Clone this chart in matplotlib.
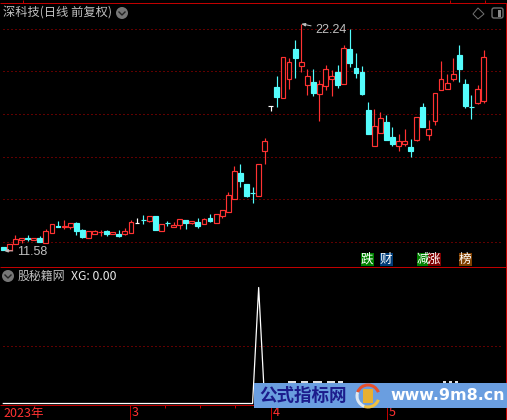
import matplotlib
matplotlib.use('Agg')
import matplotlib.pyplot as plt
from matplotlib.patches import Rectangle, Circle, Wedge, FancyBboxPatch, Polygon

plt.rcParams['font.family'] = ['Noto Sans CJK SC', 'DejaVu Sans']

opens = [11.75, 11.61, 11.89, 12.08, 12.15, 12.08, 12.17, 11.94, 12.41, 12.73,
         12.71, 12.69, 12.88, 12.55, 12.17, 12.36, 12.45, 12.50, 12.36, 12.36,
         12.36, 12.41, 12.88, 13.03, 12.97, 13.21, 12.50, 12.89, 12.69, 12.79,
         13.02, 12.88, 12.93, 12.83, 13.11, 12.88, 13.21, 13.40, 14.01, 15.23,
         14.71, 14.30, 14.15, 16.26, 18.36, 19.27, 18.75, 19.65, 21.06, 20.26,
         19.37, 19.51, 18.94, 19.32, 19.65, 19.98, 19.41, 21.06, 20.16, 19.98,
         18.19, 16.50, 17.11, 17.63, 16.92, 16.50, 16.59, 16.45, 16.78, 18.33,
         17.02, 17.67, 19.13, 19.18, 19.65, 20.77, 19.41, 18.34, 18.52, 18.61]
highs = [11.75, 11.89, 12.32, 12.17, 12.32, 12.17, 12.27, 12.60, 12.83, 12.97,
         13.02, 12.88, 12.93, 12.60, 12.50, 12.55, 12.55, 12.55, 12.46, 12.55,
         12.64, 13.02, 13.11, 13.25, 13.21, 13.21, 12.83, 12.97, 12.93, 13.07,
         13.02, 12.97, 13.11, 13.11, 13.30, 13.30, 13.49, 14.34, 15.56, 15.65,
         14.71, 14.57, 15.65, 16.87, 18.36, 19.79, 20.68, 20.63, 21.48, 22.24,
         20.12, 20.12, 19.60, 20.30, 20.07, 20.30, 21.25, 22.00, 20.87, 20.26,
         18.57, 18.24, 18.10, 17.96, 17.39, 17.06, 17.30, 16.83, 17.86, 18.52,
         17.72, 18.99, 20.49, 19.88, 20.63, 21.25, 19.65, 18.90, 19.37, 21.01]
lows = [11.61, 11.58, 11.89, 11.94, 12.03, 12.08, 11.99, 11.94, 12.41, 12.69,
        12.60, 12.60, 12.32, 12.17, 12.17, 12.36, 12.27, 12.27, 12.36, 12.22,
        12.32, 12.41, 12.88, 12.83, 12.93, 12.55, 12.50, 12.74, 12.69, 12.60,
        12.60, 12.83, 12.64, 12.83, 12.93, 12.88, 13.11, 13.40, 14.01, 14.57,
        14.10, 13.82, 14.15, 15.65, 18.14, 18.33, 18.75, 19.18, 19.69, 19.98,
        18.90, 18.85, 17.67, 19.13, 18.85, 19.22, 19.41, 20.21, 19.69, 18.90,
        17.06, 16.50, 17.11, 16.78, 16.50, 16.26, 16.50, 15.98, 16.73, 17.39,
        16.78, 17.49, 19.13, 19.18, 19.55, 19.51, 18.28, 17.77, 18.47, 18.52]
closes = [11.61, 11.89, 12.13, 12.17, 12.13, 12.17, 11.99, 12.50, 12.83, 12.71,
          12.73, 12.88, 12.50, 12.22, 12.50, 12.50, 12.47, 12.36, 12.46, 12.27,
          12.50, 12.93, 12.88, 13.01, 13.21, 12.55, 12.83, 12.87, 12.79, 13.07,
          12.88, 12.97, 12.74, 13.07, 12.97, 13.30, 13.49, 14.20, 15.32, 14.85,
          14.15, 14.28, 15.65, 16.73, 18.36, 18.80, 20.68, 20.45, 20.63, 20.45,
          19.79, 18.99, 19.41, 20.12, 19.79, 19.37, 21.10, 20.40, 19.93, 18.94,
          17.06, 17.44, 17.81, 16.78, 16.59, 16.73, 16.73, 16.26, 17.86, 17.39,
          17.30, 18.99, 19.65, 19.46, 19.88, 20.12, 18.38, 18.32, 19.18, 20.68]
xg = [0, 0, 0, 0, 0, 0, 0, 0, 0, 0, 0, 0, 0, 0, 0, 0, 0, 0, 0, 0,
      0, 0, 0, 0, 0, 0, 0, 0, 0, 0, 0, 0, 0, 0, 0, 0, 0, 0, 0, 0,
      0, 0, 1, 0, 0, 0, 0, 0, 0, 0, 0, 0, 0, 0, 0, 0, 0, 0, 0, 0,
      0, 0, 0, 0, 0, 0, 0, 0, 0, 0, 0, 0, 0, 0, 0, 0, 0, 0, 0, 0]
price_grid = [12, 14, 16, 18, 20, 22]
month_labels = ['2023年', '3', '4', '5']
badges = ['跌', '财', '减', '涨', '榜']

RED = '#ff3232'
CYAN = '#54fcfc'
AXIS = '#c00000'
DOT = '#c00000'
GRAY = '#c0c0c0'
LW = 0.72  # one pixel at dpi 100
CANDLE_LW = 0.85

fig = plt.figure(figsize=(5.07, 4.2), dpi=100, facecolor='black')
xlim = (-3.3 / 6.08, 503.7 / 6.08)

# main panel
ax = fig.add_axes([0, 153 / 420, 1, 264 / 420], facecolor='black')
ax.set_xlim(xlim)
ax.set_ylim(10.81, 23.22)
ax.axis('off')
ax.hlines(price_grid, -0.05, 82, color=DOT, lw=LW, linestyle=(0, (1, 3)), zorder=1)

for i in range(len(opens)):
    o, h, l, c = opens[i], highs[i], lows[i], closes[i]
    if c > o:
        col = RED
    elif c < o:
        col = CYAN
    else:
        col = 'white'
    ax.vlines(i, l, h, color=col, lw=CANDLE_LW, zorder=2)
    if c > o:
        ax.add_patch(Rectangle((i - 0.4, o), 0.8, c - o, facecolor='black', edgecolor=col,
                               lw=CANDLE_LW, joinstyle='miter', zorder=3))
    elif c < o:
        ax.add_patch(Rectangle((i - 0.4, c), 0.8, o - c, facecolor=col, edgecolor=col,
                               lw=CANDLE_LW, joinstyle='miter', zorder=3))
    else:
        ax.hlines(c, i - 0.4, i + 0.4, color=col, lw=CANDLE_LW, zorder=3)

hi = highs.index(max(highs))
lo = lows.index(min(lows))
ax.annotate('%.2f' % highs[hi], xy=(hi, highs[hi]), xytext=(14, -6), textcoords='offset pixels',
            color=GRAY, fontsize=9, va='center', family=['Liberation Sans'],
            arrowprops=dict(arrowstyle='-|>,head_width=0.1,head_length=0.25', color=GRAY, lw=LW,
                            shrinkA=1, shrinkB=0))
ax.annotate('%.2f' % lows[lo], xy=(0.1, lows[lo]), xytext=(13, -1), textcoords='offset pixels',
            color=GRAY, fontsize=9, va='center', family=['Liberation Sans'],
            arrowprops=dict(arrowstyle='-|>,head_width=0.1,head_length=0.25', color=GRAY, lw=LW,
                            shrinkA=1, shrinkB=0))

# indicator panel
ax2 = fig.add_axes([0, 15 / 420, 1, 138 / 420], facecolor='black')
ax2.set_xlim(xlim)
ax2.set_ylim(-1.5 / 116, 136.5 / 116)
ax2.axis('off')
ax2.hlines(0.5, -0.05, 82, color=DOT, lw=LW, linestyle=(0, (1, 3)), zorder=1)
ax2.plot(range(len(xg)), xg, color='white', lw=0.9, zorder=2)

# everything else in pixel coordinates
top = fig.add_axes([0, 0, 1, 1], facecolor='none')
top.set_xlim(0, 507)
top.set_ylim(420, 0)
top.axis('off')

top.hlines([3, 267, 405], 0, 507, color=AXIS, lw=LW)
top.vlines(506, 3, 420, color=AXIS, lw=LW)
top.vlines([23, 450, 485], 0, 3, color=AXIS, lw=LW)
top.vlines([130, 271, 387], 405, 420, color=AXIS, lw=LW)
top.vlines([165, 200, 235], 405, 408, color=AXIS, lw=LW)

for lab, x in zip(month_labels, [3, 132, 273, 389]):
    top.text(x, 413, lab, color=RED, fontsize=9, va='center', ha='left')

top.text(3, 12.5, '深科技(日线 前复权)', color=GRAY, fontsize=8.8, va='center', ha='left')
top.text(18, 276, '股秘籍网', color=GRAY, fontsize=8.6, va='center', ha='left')
top.text(71, 276, 'XG: 0.00', color='#e8e8e8', fontsize=8.8, va='center', ha='left')

for cx, cy in [(122, 13), (8, 276)]:
    top.add_patch(Circle((cx, cy), 6, facecolor='#767676', edgecolor='none'))
    top.plot([cx - 3, cx, cx + 3], [cy - 1, cy + 2, cy - 1], color='#222222', lw=1.0)

top.add_patch(Polygon([(478, 8), (484, 14), (478, 19), (473, 14)], closed=True, fill=False,
                      edgecolor='#707070', lw=LW))
top.add_patch(FancyBboxPatch((492, 8), 11, 10, boxstyle='round,pad=0,rounding_size=2', fill=False,
                             edgecolor='#707070', lw=1.0))
top.add_patch(Rectangle((498, 10), 3, 7, facecolor='#8a8a8a', edgecolor='none'))

badge_x = [361, 380, 417, 428, 459]
badge_c = ['#008000', '#003c78', '#008000', '#800000', '#804000']
for txt, x, c in zip(badges, badge_x, badge_c):
    top.add_patch(Rectangle((x, 253), 12.5, 12.5, facecolor=c, edgecolor='none'))
    top.text(x + 6.2, 259, txt, color='white', fontsize=9, va='center', ha='center')

# bits of hidden white text that stick out above the watermark band
for x0, x1 in [(288, 296), (301, 308), (313, 322), (327, 335), (338, 343),
               (443, 446), (449, 452), (455, 458)]:
    top.add_patch(Rectangle((x0, 381), x1 - x0, 2, facecolor='#e0e0e0', edgecolor='none', zorder=4))

# watermark band
top.add_patch(Rectangle((254, 383), 253, 25, facecolor='#6a9ee0', edgecolor='none', zorder=5))
top.text(259, 395.5, '公式指标网', color='#1c1c8c', fontsize=12.6, fontweight='bold',
         va='center', ha='left', zorder=6)
top.add_patch(Wedge((368, 396), 12.5, 200, 340, width=3, facecolor='#e8502a', edgecolor='none', zorder=6))
top.add_patch(Wedge((368, 396), 12.5, 20, 110, width=3, facecolor='#f0c040', edgecolor='none', zorder=6))
top.add_patch(Wedge((368, 396), 12.5, 110, 200, width=3, facecolor='#e0e8f0', edgecolor='none', zorder=6))
top.add_patch(Rectangle((363, 389), 10, 14, facecolor='#e8b030', edgecolor='none', zorder=6))
top.text(390, 395.5, 'www.9m8.cn', color='white', fontsize=11.4, fontweight='bold',
         family=['DejaVu Sans'], va='center', ha='left', zorder=6)

fig.savefig('out.png', dpi=100, facecolor='black')
